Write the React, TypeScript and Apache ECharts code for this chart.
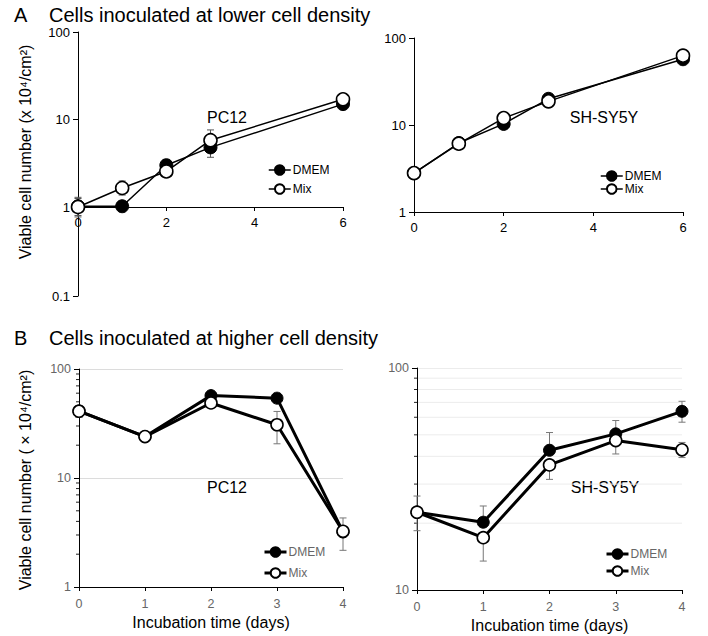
import React, { useEffect, useRef } from "react";
import * as echarts from "echarts";

// ---- Data ----
const dayTicksA = [0, 2, 4, 6];
const dayTicksB = [0, 1, 2, 3, 4];

// Panel A (lower density) PC12
const aPcDmem = [[0, 1.02], [1, 1.02], [2, 3.0], [3, 4.8], [6, 15]];
const aPcMix = [[0, 1.0], [1, 1.65], [2, 2.55], [3, 5.8], [6, 17]];
const aPcDmemErr = [[0, 0.8, 1.25], [2, 2.7, 3.5], [3, 3.7, 5.9], [6, 13.5, 16.5]];
const aPcMixErr = [[0, 0.77, 1.29], [1, 1.37, 1.98], [2, 2.3, 2.8], [3, 4.6, 7.6], [6, 15, 19]];

// Panel A (lower density) SH-SY5Y
const aShDmem = [[0, 2.8], [1, 6.2], [2, 10.3], [3, 20], [6, 57]];
const aShMix = [[0, 2.8], [1, 6.1], [2, 12], [3, 18.7], [6, 62.7]];
const aShDmemErr = [[1, 5.6, 6.8], [2, 9.6, 11], [3, 17.5, 21.5], [6, 52, 62]];
const aShMixErr = [[1, 5.5, 6.7], [2, 11, 13], [3, 16, 20.5], [6, 58, 67]];

// Panel B (higher density) PC12
const bPcDmem = [[0, 41], [1, 24], [2, 57], [3, 54], [4, 3.2]];
const bPcMix = [[0, 41], [1, 24], [2, 48.8], [3, 30.8], [4, 3.24]];
const bPcDmemErr = [[0, 36, 46], [1, 22, 26], [2, 53, 61], [3, 50, 58]];
const bPcMixErr = [[0, 36, 46], [1, 22, 26.5], [2, 45, 53], [3, 20.6, 40.8], [4, 2.17, 4.3]];

// Panel B (higher density) SH-SY5Y
const bShDmem = [[0, 22.4], [1, 20.2], [2, 42.6], [3, 50.5], [4, 63.8]];
const bShMix = [[0, 22.4], [1, 17.2], [2, 36.6], [3, 47.1], [4, 42.8]];
const bShDmemErr = [[0, 22.4, 26.5], [1, 20.2, 23.9], [2, 42.6, 51.2], [3, 50.5, 58], [4, 57, 70.8]];
const bShMixErr = [[0, 18.5, 22.4], [1, 13.5, 17.2], [2, 31.5, 36.6], [3, 41, 47.1], [4, 39.5, 46.2]];

const minorTicksB1 = [2, 3, 4, 5, 6, 7, 8, 9, 20, 30, 40, 50, 60, 70, 80, 90];
const minorTicksB2 = [20, 30, 40, 50, 60, 70, 80, 90];

const FONT = "'Liberation Sans', Arial, Helvetica, sans-serif";

function errSeries(xi: number, yi: number, data: number[][], color: string) {
  return {
    type: "custom",
    xAxisIndex: xi,
    yAxisIndex: yi,
    z: 1,
    silent: true,
    clip: false,
    data,
    encode: { x: 0, y: [1, 2] },
    renderItem: (params: any, api: any) => {
      const x = api.value(0);
      const p1 = api.coord([x, api.value(1)]);
      const p2 = api.coord([x, api.value(2)]);
      const w = 3.5;
      const st = { stroke: color, lineWidth: 1 };
      return {
        type: "group",
        children: [
          { type: "line", shape: { x1: p1[0], y1: p1[1], x2: p2[0], y2: p2[1] }, style: st },
          { type: "line", shape: { x1: p1[0] - w, y1: p1[1], x2: p1[0] + w, y2: p1[1] }, style: st },
          { type: "line", shape: { x1: p2[0] - w, y1: p2[1], x2: p2[0] + w, y2: p2[1] }, style: st },
        ],
      };
    },
  };
}

function minorSeries(xi: number, yi: number, vals: number[], xmax: number, grid: boolean) {
  return {
    type: "custom",
    xAxisIndex: xi,
    yAxisIndex: yi,
    z: 0,
    silent: true,
    clip: false,
    data: vals.map((v) => [0, v]),
    renderItem: (params: any, api: any) => {
      const v = api.value(1);
      const p = api.coord([0, v]);
      const q = api.coord([xmax, v]);
      const children: any[] = [
        { type: "line", shape: { x1: p[0] - 3, y1: p[1], x2: p[0], y2: p[1] }, style: { stroke: "#222", lineWidth: 1 } },
      ];
      if (grid && v >= 10) {
        children.push({ type: "line", shape: { x1: p[0] + 1, y1: p[1], x2: q[0], y2: q[1] }, style: { stroke: "#ececec", lineWidth: 1 } });
      }
      return { type: "group", children };
    },
  };
}

function lineSeries(name: string, xi: number, yi: number, data: number[][], filled: boolean, lw: number, size: number) {
  return {
    type: "line",
    name,
    xAxisIndex: xi,
    yAxisIndex: yi,
    data,
    z: filled ? 3 : 4,
    symbol: "circle",
    symbolSize: size,
    showAllSymbol: true,
    lineStyle: { color: "#000", width: lw },
    itemStyle: { color: filled ? "#000" : "#fff", borderColor: "#000", borderWidth: filled ? 1 : 1.6 },
    emphasis: { disabled: true },
  };
}

function xAxisA(gi: number) {
  return {
    type: "value",
    gridIndex: gi,
    min: 0,
    max: 6,
    interval: 2,
    axisLine: { show: true, lineStyle: { color: "#000", width: 1 } },
    axisTick: { show: true, length: 4, lineStyle: { color: "#000" } },
    axisLabel: { color: "#000", fontSize: 13, fontFamily: FONT, margin: 9 },
    splitLine: { show: false },
  };
}

function xAxisB(gi: number) {
  return {
    type: "value",
    gridIndex: gi,
    min: 0,
    max: 4,
    interval: 1,
    name: "Incubation time (days)",
    nameLocation: "middle",
    nameGap: 27,
    nameTextStyle: { color: "#000", fontSize: 16, fontFamily: FONT },
    axisLine: { show: true, lineStyle: { color: "#000", width: 1 } },
    axisTick: { show: true, length: 4, lineStyle: { color: "#000" } },
    axisLabel: { color: "#666", fontSize: 12.5, fontFamily: FONT, margin: 10 },
    splitLine: { show: false },
  };
}

function legend(left: number, top: number, gap: number, ih: number, lw: number, color: string) {
  return {
    orient: "vertical",
    left,
    top,
    itemWidth: 22,
    itemHeight: ih,
    itemGap: gap,
    selectedMode: false,
    data: ["DMEM", "Mix"],
    lineStyle: { width: lw, color: "#000" },
    textStyle: { color, fontSize: 12, fontFamily: FONT, padding: [0, 0, 0, -3] },
  };
}

function txt(x: number, y: number, text: string, size: number, rot = 0, align = "center") {
  return {
    type: "text",
    x,
    y,
    rotation: rot,
    silent: true,
    style: { text, fontSize: size, fontFamily: FONT, fill: "#000", align, verticalAlign: "middle" },
  };
}

export default function App() {
  const ref = useRef<HTMLDivElement>(null);
  useEffect(() => {
    if (!ref.current) return;
    const chart = echarts.init(ref.current, null, { renderer: "svg" });
    const option: any = {
      animation: false,
      backgroundColor: "#fff",
      textStyle: { fontFamily: FONT },
      grid: [
        { left: 78, top: 32, width: 265, height: 175 },
        { left: 78, top: 207, width: 265, height: 89 },
        { left: 414, top: 38, width: 269, height: 174 },
        { left: 79, top: 369, width: 264, height: 218 },
        { left: 417, top: 368, width: 265, height: 222 },
      ],
      xAxis: [
        xAxisA(0),
        { type: "value", gridIndex: 1, min: 0, max: 6, show: false },
        xAxisA(2),
        xAxisB(3),
        xAxisB(4),
      ],
      yAxis: [
        {
          type: "log", gridIndex: 0, min: 1, max: 100, logBase: 10,
          axisLine: { show: true, lineStyle: { color: "#000" } },
          axisTick: { show: true, length: 5, lineStyle: { color: "#000" } },
          axisLabel: { color: "#000", fontSize: 13, fontFamily: FONT, margin: 8 },
          splitLine: { show: false },
        },
        {
          type: "log", gridIndex: 1, min: 0.1, max: 1, logBase: 10,
          axisLine: { show: true, lineStyle: { color: "#000" } },
          axisTick: { show: true, length: 5, lineStyle: { color: "#000" } },
          axisLabel: { color: "#000", fontSize: 13, fontFamily: FONT, margin: 8, showMaxLabel: false },
          splitLine: { show: false },
        },
        {
          type: "log", gridIndex: 2, min: 1, max: 100, logBase: 10,
          axisLine: { show: true, lineStyle: { color: "#000" } },
          axisTick: { show: true, length: 5, lineStyle: { color: "#000" } },
          axisLabel: { color: "#000", fontSize: 13, fontFamily: FONT, margin: 8 },
          splitLine: { show: false },
        },
        {
          type: "log", gridIndex: 3, min: 1, max: 100, logBase: 10,
          axisLine: { show: true, lineStyle: { color: "#000" } },
          axisTick: { show: true, length: 5, lineStyle: { color: "#000" } },
          axisLabel: { color: "#666", fontSize: 12.5, fontFamily: FONT, margin: 8 },
          splitLine: { show: true, lineStyle: { color: "#dcdcdc", width: 1 } },
        },
        {
          type: "log", gridIndex: 4, min: 10, max: 100, logBase: 10,
          axisLine: { show: true, lineStyle: { color: "#000" } },
          axisTick: { show: true, length: 5, lineStyle: { color: "#000" } },
          axisLabel: { color: "#666", fontSize: 12.5, fontFamily: FONT, margin: 8 },
          splitLine: { show: true, lineStyle: { color: "#ececec", width: 1 } },
        },
      ],
      legend: [
        legend(263, 159, 7, 12, 1.5, "#000"),
        legend(595, 165, 1, 12, 1.5, "#000"),
        legend(258, 541, 9, 12, 3, "#666"),
        legend(600, 543, 5, 12, 3, "#666"),
      ],
      series: [
        errSeries(0, 0, aPcDmemErr, "#555"),
        errSeries(0, 0, aPcMixErr, "#555"),
        lineSeries("DMEM", 0, 0, aPcDmem, true, 1.5, 13),
        lineSeries("Mix", 0, 0, aPcMix, false, 1.5, 13),

        errSeries(2, 2, aShDmemErr, "#555"),
        errSeries(2, 2, aShMixErr, "#555"),
        lineSeries("DMEM", 2, 2, aShDmem, true, 1.5, 13),
        lineSeries("Mix", 2, 2, aShMix, false, 1.5, 13),

        minorSeries(3, 3, minorTicksB1, 4, false),
        errSeries(3, 3, bPcDmemErr, "#777"),
        errSeries(3, 3, bPcMixErr, "#777"),
        lineSeries("DMEM", 3, 3, bPcDmem, true, 3, 12),
        lineSeries("Mix", 3, 3, bPcMix, false, 3, 12),

        minorSeries(4, 4, minorTicksB2, 4, true),
        errSeries(4, 4, bShDmemErr, "#777"),
        errSeries(4, 4, bShMixErr, "#777"),
        lineSeries("DMEM", 4, 4, bShDmem, true, 3, 12),
        lineSeries("Mix", 4, 4, bShMix, false, 3, 12),
      ],
      graphic: [
        txt(14, 15, "A", 20, 0, "left"),
        txt(49, 15, "Cells inoculated at lower cell density", 20, 0, "left"),
        txt(14, 338, "B", 20, 0, "left"),
        txt(49, 338, "Cells inoculated at higher cell density", 20, 0, "left"),
        txt(25, 152, "Viable cell number (x 10⁴/cm²)", 16, Math.PI / 2),
        txt(25, 480, "Viable cell number ( × 10⁴/cm²)", 16, Math.PI / 2),
        txt(227, 117, "PC12", 16),
        txt(604, 117, "SH-SY5Y", 16),
        txt(227, 487, "PC12", 16),
        txt(605, 487, "SH-SY5Y", 16),
      ],
    };
    chart.setOption(option);
    return () => chart.dispose();
  }, []);
  return (
    <div
      ref={ref}
      style={{ position: "fixed", left: 0, top: 0, width: 708, height: 636, background: "#fff" }}
    />
  );
}
